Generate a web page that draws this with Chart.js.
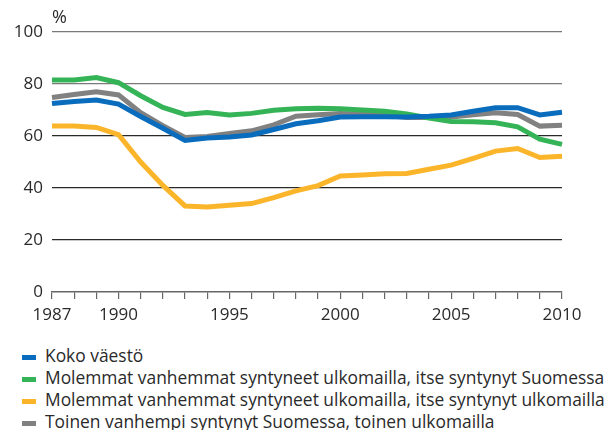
<!DOCTYPE html>
<html>
<head>
<meta charset="utf-8">
<script src="https://cdn.jsdelivr.net/npm/chart.js@4"></script>
<style>
  body { margin: 0; background: #fff; font-family: "Open Sans", sans-serif; }
  #wrap { position: relative; width: 606px; height: 430px; }
  #legend { position: absolute; left: 22px; top: 344px; color: #2a2a2a; font-size: 17.4px; }
  #legend div { height: 22px; line-height: 22px; white-space: nowrap; }
  #legend span { display: inline-block; width: 14px; height: 5px; margin-right: 9px; vertical-align: middle; }
</style>
</head>
<body>
<div id="wrap">
  <canvas id="chart" width="606" height="335"></canvas>
  <div id="legend"></div>
</div>
<script>
const years = ['1987','1988','1989','1990','1991','1992','1993','1994','1995','1996','1997','1998',
  '1999','2000','2001','2002','2003','2004','2005','2006','2007','2008','2009','2010'];
const shownYears = ['1987', '1990', '1995', '2000', '2005', '2010'];

const seriesNames = [
  'Koko väestö',
  'Molemmat vanhemmat syntyneet ulkomailla, itse syntynyt Suomessa',
  'Molemmat vanhemmat syntyneet ulkomailla, itse syntynyt ulkomailla',
  'Toinen vanhempi syntynyt Suomessa, toinen ulkomailla'
];
const seriesColors = ['#0a6cbc', '#35b457', '#fbb52b', '#818181'];

const kokoVaesto = [72.5, 73.3, 73.8, 72.3, 67.5, 63, 58.3, 59.2, 59.6, 60.4, 62.5, 64.7,
  65.9, 67.3, 67.4, 67.4, 67.3, 67.6, 68.1, 69.5, 70.9, 70.9, 68.1, 69.1];
const suomessaSyntynyt = [81.5, 81.5, 82.5, 80.5, 75.5, 71, 68.3, 69, 68.1, 68.7, 69.9, 70.5,
  70.7, 70.5, 70, 69.5, 68.5, 66.9, 65.6, 65.5, 65.1, 63.5, 58.8, 56.8];
const ulkomaillaSyntynyt = [63.8, 63.8, 63.3, 60.5, 50, 41, 33.1, 32.7, 33.4, 34, 36.3, 38.9,
  40.9, 44.6, 45, 45.5, 45.6, 47.2, 48.8, 51.4, 54.2, 55.2, 51.7, 52.2];
const toinenVanhempi = [74.8, 76, 77, 75.8, 69, 64, 59.4, 59.8, 61, 62, 64.3, 67.6,
  68.2, 68.7, 68.5, 68.1, 67.1, 67.1, 67.3, 68.2, 68.9, 68.3, 63.8, 64.1];

const seriesData = [kokoVaesto, suomessaSyntynyt, ulkomaillaSyntynyt, toinenVanhempi];

const legend = document.getElementById('legend');
seriesNames.forEach((name, i) => {
  const row = document.createElement('div');
  row.innerHTML = '<span style="background:' + seriesColors[i] + '"></span>' + name;
  legend.appendChild(row);
});

// the "%" unit over the y axis
const percentLabel = {
  id: 'percentLabel',
  afterDraw(chart) {
    const ctx = chart.ctx;
    ctx.save();
    ctx.font = '18px "Open Sans"';
    ctx.fillStyle = '#2a2a2a';
    ctx.textBaseline = 'middle';
    ctx.fillText('%', chart.chartArea.left, 18);
    ctx.restore();
  }
};

const ctx = document.getElementById('chart').getContext('2d');
new Chart(ctx, {
  type: 'line',
  data: {
    labels: years,
    datasets: seriesData.map((d, i) => ({
      label: seriesNames[i],
      data: d,
      borderColor: seriesColors[i],
      backgroundColor: seriesColors[i],
      borderWidth: 5,
      pointRadius: 0,
      tension: 0,
      fill: false
    }))
  },
  options: {
    responsive: false,
    animation: false,
    layout: { padding: { top: 32, right: 44, left: 0, bottom: 0 } },
    plugins: { legend: { display: false }, tooltip: { enabled: false } },
    scales: {
      x: {
        afterFit(scale) { scale.height = 43; },
        border: { display: true, color: '#666', width: 1.5 },
        grid: { drawOnChartArea: false, drawTicks: true, tickLength: 7, color: '#666', lineWidth: 1.2 },
        ticks: {
          autoSkip: false,
          maxRotation: 0,
          padding: 6,
          color: '#2a2a2a',
          font: { family: 'Open Sans', size: 17 },
          callback(value) {
            const y = this.getLabelForValue(value);
            return shownYears.includes(y) ? y : '';
          }
        }
      },
      y: {
        min: 0,
        max: 100,
        afterFit(scale) { scale.width = 52; },
        border: { display: false },
        grid: {
          drawTicks: false,
          lineWidth: 1.2,
          color(c) {
            if (c.tick.value === 0) return 'rgba(0,0,0,0)';
            return c.tick.value >= 80 ? '#7a7a7a' : '#2a2a2a';
          }
        },
        ticks: {
          stepSize: 20,
          padding: 9,
          color: '#2a2a2a',
          font: { family: 'Open Sans', size: 17 }
        }
      }
    }
  },
  plugins: [percentLabel]
});
</script>
</body>
</html>
